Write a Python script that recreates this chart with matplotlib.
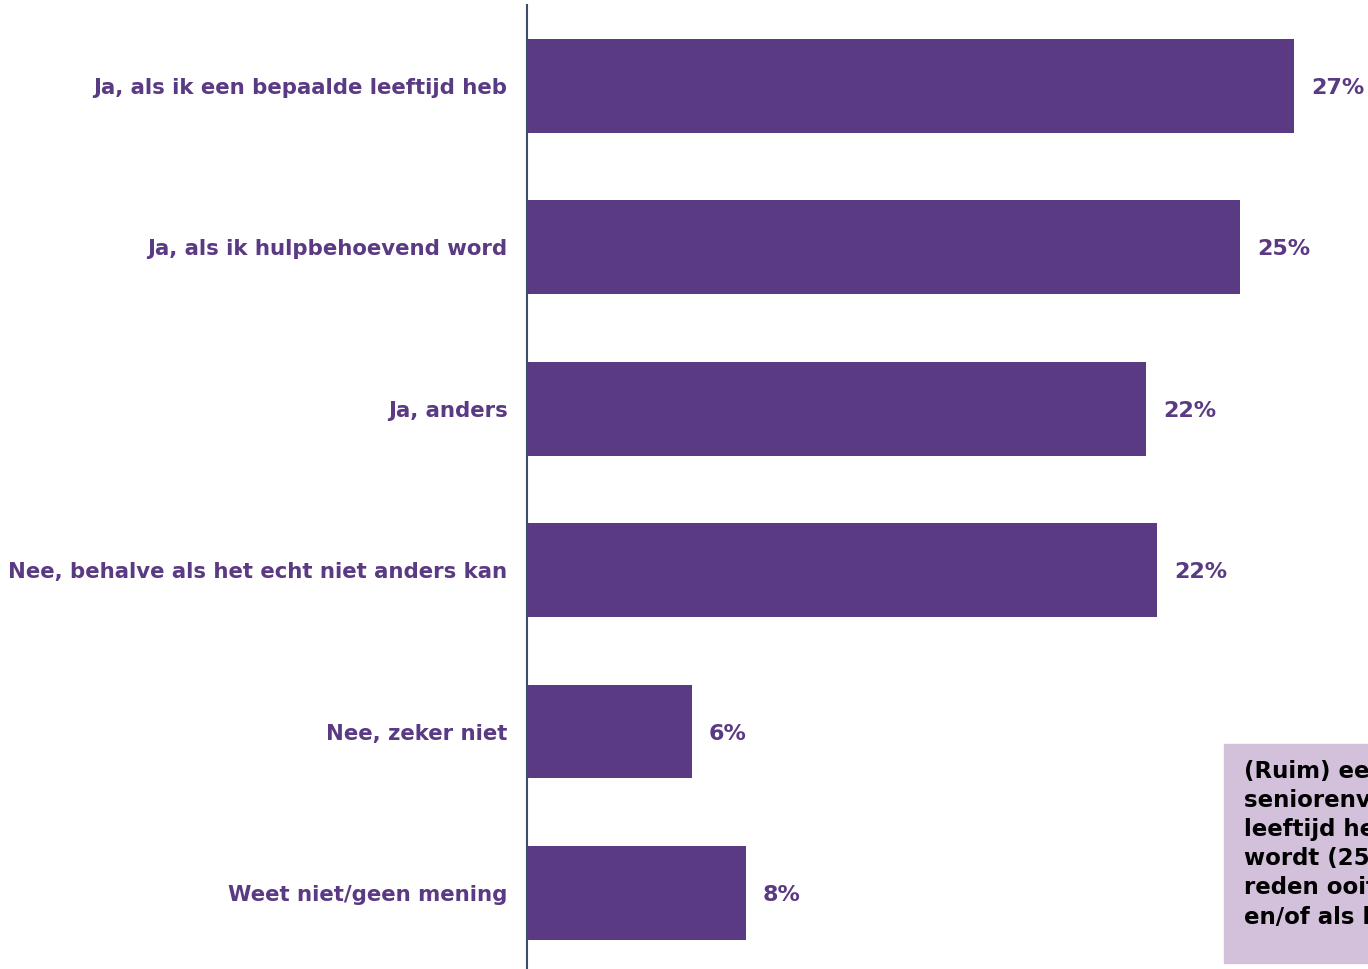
import matplotlib
matplotlib.use("Agg")
import matplotlib.pyplot as plt
from matplotlib.patches import Rectangle

# antwoorden en percentages
categories = [
    "Ja, als ik een bepaalde leeftijd heb",
    "Ja, als ik hulpbehoevend word",
    "Ja, anders",
    "Nee, behalve als het echt niet anders kan",
    "Nee, zeker niet",
    "Weet niet/geen mening",
]
values = [27.0, 25.1, 21.8, 22.2, 5.8, 7.7]
note_lines = [
    "(Ruim) een kwart is van plan naar een",
    "seniorenvoorziening te verhuizen als ze",
    "leeftijd hebben bereikt of hulpbehoevend",
    "wordt (25%). 22% wil om een andere",
    "reden ooit verhuizen, 22% alleen als het",
    "en/of als het echt niet anders kan.",
]

purple = "#5B3A84"
W, H = 1368, 969

fig = plt.figure(figsize=(W / 100, H / 100), dpi=100)
ax = fig.add_axes([527 / W, 0, (W - 527) / W, (969 - 5) / H])

y = list(range(len(categories)))
ax.barh(y, values, height=0.58, color=purple)
ax.set_xlim(0, (W - 527) / 28.4)
ax.set_ylim(5.47, -0.5)

for yi, v in zip(y, values):
    ax.text(v + 17 / 28.4, yi + 0.012, f"{round(v)}%", va="center", ha="left",
            fontsize=16, fontweight="bold", color=purple)

ax.set_yticks(y)
ax.set_yticklabels(categories, fontsize=15.3, fontweight="bold", color=purple)
ax.tick_params(axis="y", length=0, pad=14)
ax.set_xticks([])
for s in ["top", "right", "bottom"]:
    ax.spines[s].set_visible(False)
ax.spines["left"].set_color("#3D4E6B")
ax.spines["left"].set_linewidth(1.5)

# tekstvak rechtsonder
fig.patches.append(Rectangle((1224 / W, (H - 963) / H), 400 / W, 219 / H,
                             transform=fig.transFigure, color="#D3C0DB", zorder=0))
fig.text(1244 / W, (H - 760) / H, "\n".join(note_lines), ha="left", va="top",
         fontsize=16.5, fontweight="bold", color="black", linespacing=1.34)

fig.savefig("out.png", dpi=100)
